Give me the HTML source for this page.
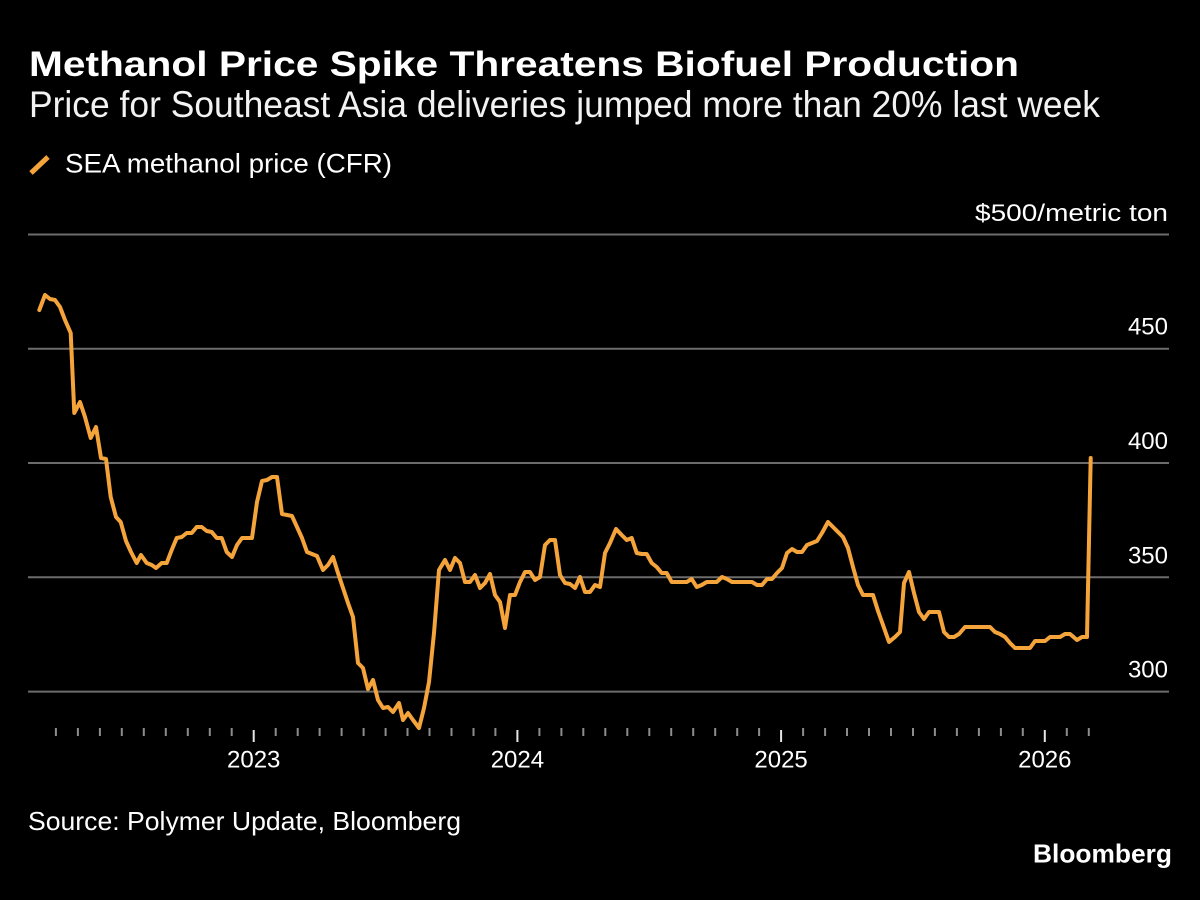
<!DOCTYPE html>
<html>
<head>
<meta charset="utf-8">
<style>
html,body{margin:0;padding:0;background:#000;}
svg{display:block;}
text{font-family:"Liberation Sans",sans-serif;fill:#fff;}
</style>
</head>
<body>
<svg width="1200" height="900" viewBox="0 0 1200 900" xmlns="http://www.w3.org/2000/svg">
<rect width="1200" height="900" fill="#000"/>

<text x="29" y="76" font-size="35" font-weight="bold" textLength="990" lengthAdjust="spacingAndGlyphs">Methanol Price Spike Threatens Biofuel Production</text>
<text x="29" y="117" font-size="37" textLength="1071" lengthAdjust="spacingAndGlyphs" style="fill:#f2f2f2">Price for Southeast Asia deliveries jumped more than 20% last week</text>

<line x1="31" y1="173" x2="48" y2="157" stroke="#f4a43b" stroke-width="5"/>
<text x="65" y="172.7" font-size="27" textLength="327" lengthAdjust="spacingAndGlyphs">SEA methanol price (CFR)</text>

<g stroke="#6c6c6c" stroke-width="2">
<line x1="28" y1="234.5" x2="1169" y2="234.5"/>
<line x1="28" y1="348.7" x2="1169" y2="348.7"/>
<line x1="28" y1="463" x2="1169" y2="463"/>
<line x1="28" y1="577.3" x2="1169" y2="577.3"/>
<line x1="28" y1="691.6" x2="1169" y2="691.6"/>
</g>

<text x="975" y="221" font-size="24" textLength="193" lengthAdjust="spacingAndGlyphs">$500/metric ton</text>
<text x="1168" y="334.5" font-size="24" text-anchor="end">450</text>
<text x="1168" y="449" font-size="24" text-anchor="end">400</text>
<text x="1168" y="563.3" font-size="24" text-anchor="end">350</text>
<text x="1168" y="677.6" font-size="24" text-anchor="end">300</text>

<g stroke="#8c8c8c" stroke-width="2">
<line x1="55.9" y1="728" x2="55.9" y2="736"/>
<line x1="77.9" y1="728" x2="77.9" y2="736"/>
<line x1="99.9" y1="728" x2="99.9" y2="736"/>
<line x1="121.8" y1="728" x2="121.8" y2="736"/>
<line x1="143.8" y1="728" x2="143.8" y2="736"/>
<line x1="165.8" y1="728" x2="165.8" y2="736"/>
<line x1="187.8" y1="728" x2="187.8" y2="736"/>
<line x1="209.8" y1="728" x2="209.8" y2="736"/>
<line x1="231.7" y1="728" x2="231.7" y2="736"/>
<line x1="275.7" y1="728" x2="275.7" y2="736"/>
<line x1="297.7" y1="728" x2="297.7" y2="736"/>
<line x1="319.6" y1="728" x2="319.6" y2="736"/>
<line x1="341.6" y1="728" x2="341.6" y2="736"/>
<line x1="363.6" y1="728" x2="363.6" y2="736"/>
<line x1="385.6" y1="728" x2="385.6" y2="736"/>
<line x1="407.5" y1="728" x2="407.5" y2="736"/>
<line x1="429.5" y1="728" x2="429.5" y2="736"/>
<line x1="451.5" y1="728" x2="451.5" y2="736"/>
<line x1="473.5" y1="728" x2="473.5" y2="736"/>
<line x1="495.4" y1="728" x2="495.4" y2="736"/>
<line x1="539.4" y1="728" x2="539.4" y2="736"/>
<line x1="561.4" y1="728" x2="561.4" y2="736"/>
<line x1="583.3" y1="728" x2="583.3" y2="736"/>
<line x1="605.3" y1="728" x2="605.3" y2="736"/>
<line x1="627.3" y1="728" x2="627.3" y2="736"/>
<line x1="649.3" y1="728" x2="649.3" y2="736"/>
<line x1="671.2" y1="728" x2="671.2" y2="736"/>
<line x1="693.2" y1="728" x2="693.2" y2="736"/>
<line x1="715.2" y1="728" x2="715.2" y2="736"/>
<line x1="737.2" y1="728" x2="737.2" y2="736"/>
<line x1="759.1" y1="728" x2="759.1" y2="736"/>
<line x1="803.1" y1="728" x2="803.1" y2="736"/>
<line x1="825.1" y1="728" x2="825.1" y2="736"/>
<line x1="847" y1="728" x2="847" y2="736"/>
<line x1="869" y1="728" x2="869" y2="736"/>
<line x1="891" y1="728" x2="891" y2="736"/>
<line x1="913" y1="728" x2="913" y2="736"/>
<line x1="934.9" y1="728" x2="934.9" y2="736"/>
<line x1="956.9" y1="728" x2="956.9" y2="736"/>
<line x1="978.9" y1="728" x2="978.9" y2="736"/>
<line x1="1000.9" y1="728" x2="1000.9" y2="736"/>
<line x1="1022.8" y1="728" x2="1022.8" y2="736"/>
<line x1="1066.8" y1="728" x2="1066.8" y2="736"/>
<line x1="1088.8" y1="728" x2="1088.8" y2="736"/>
</g>
<g stroke="#e6e6e6" stroke-width="2">
<line x1="253.7" y1="730" x2="253.7" y2="742"/>
<line x1="517.4" y1="730" x2="517.4" y2="742"/>
<line x1="781.1" y1="730" x2="781.1" y2="742"/>
<line x1="1044.8" y1="730" x2="1044.8" y2="742"/>
</g>

<text x="253.7" y="767.7" font-size="24" text-anchor="middle">2023</text>
<text x="517.4" y="767.7" font-size="24" text-anchor="middle">2024</text>
<text x="781.1" y="767.7" font-size="24" text-anchor="middle">2025</text>
<text x="1044.8" y="767.7" font-size="24" text-anchor="middle">2026</text>

<polyline fill="none" stroke="#f4a43b" stroke-width="4" stroke-linejoin="round" stroke-linecap="round" points="39.3,310 45,295 50,299 55,300 60,307 65,320 70.7,333 74.3,413 80,402 85,417 90.7,438 96,427 101,458 106,459 110.7,497 116,517 120.7,522 126,541 131,552 136.7,563 141,555 146.7,563 151.7,565 156,568 161.7,563 166.7,563 171.7,550 176.7,538 181.7,537 186.7,533 191.7,533 196.7,527 201.7,527 206.7,531 211.7,532 216.7,538 221.7,538 226.7,552 232,557 237,545 242,538 247,538 252,538 257,502 262,481 267,480 272,477 277,477 282,514 287,515 292,516 297,527 302,538 307,552 312,554 317,556 323,570 328,565 333,557 338,573 343,588 348,603 353,617 358,663 363,668 368,689 373,680 378,700 383,708 388,707 393,712 399,703 403,720 408,713 413,720 419,728 424,708 429,682 434,633 439,570 445,560 450,570 455,558 460,563 465,582 470,582 475,575 480,588 485,583 490,574 495,595 500,602 505,628 510,595 515,595 520,582 525,572 530,572 535,580 540,577 545,545 550,540 555,540 560,575 565,583 570,584 575,588 580,577 585,592 590,592 595,585 600,587 605,553 610,543 616,529 621.7,535 626.7,540 631.7,538 636.7,553 641.7,554 646.7,554 651.7,563 656.7,567 661.7,573 666.7,573 671.7,582 676.7,582 681.7,582 686.7,582 691.7,579 696.7,587 701.7,585 706.7,582 711.7,582 716.7,582 722,577 727,579 732,582 737,582 742,582 747,582 752,582 757,585 762,585 767,579 772,579 777,573 782,568 787,553 792,549 797,552 802,552 807,545 812,543 817,541 822,533 828,522 833,527 838,532 843,537 848,548 853,567 858,585 863,595 868,595 873,595 878,611 883,625 889,642 895,637 900,632 904,583 909,572 914,593 919,612 924,619 929,612 934,612 939,612 944,632 949,637 954,637 959,634 965,627 970,627 975,627 980,627 985,627 990,627 995,632 1000,634 1005,637 1010,643 1015,648 1020,648 1025,648 1030,648 1035,641 1040,641 1045,641 1050,637 1055,637 1060,637 1065,634 1070,634 1077,640 1082,637 1087,637 1090.7,458"/>

<text x="28" y="830" font-size="26" textLength="433" lengthAdjust="spacingAndGlyphs">Source: Polymer Update, Bloomberg</text>
<text x="1033" y="862.7" font-size="26" font-weight="bold" textLength="139" lengthAdjust="spacingAndGlyphs">Bloomberg</text>
</svg>
</body>
</html>
